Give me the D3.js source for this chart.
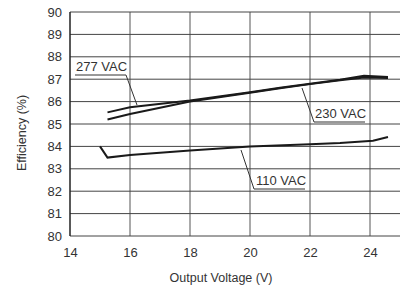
<!DOCTYPE html>
<html>
<head>
<meta charset="utf-8">
<script src="https://cdn.jsdelivr.net/npm/d3@7"></script>
<style>
body { margin:0; background:#fff; }
text { font-family: "Liberation Sans Narrow", "Arial Narrow", "Liberation Sans", Arial, sans-serif; fill:#333; }
</style>
</head>
<body>
<div id="chart-area"></div>
<script>
// data
var xTicks = [14, 16, 18, 20, 22, 24];
var yTicks = [80, 81, 82, 83, 84, 85, 86, 87, 88, 89, 90];

var volt277 = [15.25, 16, 18, 20, 21, 22, 23, 23.8, 24.6];
var eff277  = [85.52, 85.75, 86.05, 86.42, 86.62, 86.8, 86.98, 87.15, 87.1];
var volt230 = [15.25, 16, 18, 20, 21, 22, 23, 23.8, 24.6];
var eff230  = [85.2, 85.45, 86.0, 86.4, 86.6, 86.78, 86.95, 87.08, 87.05];
var volt110 = [15.0, 15.25, 16, 18, 20, 22, 23, 24.1, 24.6];
var eff110  = [84.0, 83.5, 83.62, 83.82, 84.0, 84.1, 84.15, 84.25, 84.42];

var margin = { left:70, right:5, top:12, bottom:52 };
var width = 405 - margin.left - margin.right,
    height = 288 - margin.top - margin.bottom;

var svg = d3.select("#chart-area")
    .append("svg")
        .attr("width", 405)
        .attr("height", 288);
var g = svg.append("g")
    .attr("transform", "translate(" + margin.left + "," + margin.top + ")");

var x = d3.scaleLinear().domain([14, 25]).range([0, width]);
var y = d3.scaleLinear().domain([80, 90]).range([height, 0]);

// Grid
g.selectAll(".vgrid").data(xTicks.slice(1)).enter().append("line")
    .attr("x1", function(d){ return x(d); })
    .attr("x2", function(d){ return x(d); })
    .attr("y1", 0).attr("y2", height)
    .attr("stroke", "#555").attr("stroke-width", 1);
g.selectAll(".hgrid").data(yTicks).enter().append("line")
    .attr("x1", 0).attr("x2", width)
    .attr("y1", function(d){ return y(d); })
    .attr("y2", function(d){ return y(d); })
    .attr("stroke", "#444").attr("stroke-width", 1);
g.append("line").attr("x1", 0).attr("x2", 0).attr("y1", 0).attr("y2", height)
    .attr("stroke", "#222").attr("stroke-width", 1.5);

// Axes (labels only)
var xAxis = g.append("g").attr("transform", "translate(0," + height + ")")
    .call(d3.axisBottom(x).tickValues(xTicks).tickSize(0).tickPadding(12));
xAxis.select(".domain").remove();

var yAxis = g.append("g")
    .call(d3.axisLeft(y).tickValues(yTicks).tickSize(0).tickPadding(8));
yAxis.select(".domain").remove();

svg.selectAll(".tick text")
    .attr("font-size", "13px")
    .attr("fill", "#333")
    .attr("font-family", null);

svg.append("text")
    .attr("x", 221).attr("y", 282)
    .attr("text-anchor", "middle").attr("font-size", "12.5px")
    .text("Output Voltage (V)");
svg.append("text")
    .attr("transform", "translate(26,133) rotate(-90)")
    .attr("text-anchor", "middle").attr("font-size", "12.5px")
    .text("Efficiency (%)");

// Lines
var line = d3.line()
    .x(function(d){ return x(d[0]); })
    .y(function(d){ return y(d[1]); });

[[volt277, eff277], [volt230, eff230], [volt110, eff110]].forEach(function(s){
    g.append("path")
        .datum(d3.zip(s[0], s[1]))
        .attr("fill", "none")
        .attr("stroke", "#1a1a1a")
        .attr("stroke-width", 2)
        .attr("d", line);
});

// Callouts: label, text pos, underline x range, leader end
function callout(label, tx, ty, ux1, ux2, lx, ly, leftLeader) {
    svg.append("text").attr("x", tx).attr("y", ty)
        .attr("font-size", "13px").text(label);
    var pts = leftLeader
        ? [[lx, ly], [ux1, ty + 4], [ux2, ty + 4]]
        : [[ux1, ty + 4], [ux2, ty + 4], [lx, ly]];
    svg.append("polyline")
        .attr("points", pts.join(" "))
        .attr("fill", "none").attr("stroke", "#333").attr("stroke-width", 1);
}
callout("277 VAC", 76, 71, 75, 126, 137, 105, false);
callout("230 VAC", 315, 118, 314, 365, 302, 88, true);
callout("110 VAC", 256, 185, 254, 305, 241, 150, true);
</script>
</body>
</html>
